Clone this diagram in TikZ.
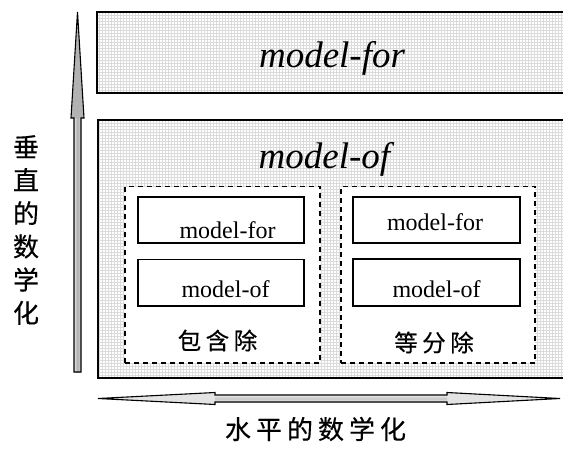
\documentclass[tikz,border=0pt]{standalone}
\usepackage{fontspec}
\setmainfont{Liberation Serif}
\newfontfamily\cjk[FakeBold=0.4]{Noto Sans CJK SC}
\usetikzlibrary{patterns}
\tikzset{
  outerbox/.style={draw=black, line width=2pt, preaction={fill=white}, pattern=grid, pattern color=black!14, inner sep=0pt, outer sep=0pt},
  dashbox/.style={draw=black, line width=1.5pt, dash pattern=on 5pt off 4pt, fill=white, inner sep=0pt, outer sep=0pt},
  innerbox/.style={draw=black, line width=1.4pt, fill=white, inner sep=0pt, outer sep=0pt},
  bigital/.style={font=\fontsize{37}{40}\selectfont\itshape, anchor=base, inner sep=0pt},
  smalltext/.style={font=\fontsize{24}{26}\selectfont, anchor=base, inner sep=0pt},
  cjklabel/.style={font=\cjk\fontsize{23.5}{26}\selectfont, inner sep=0pt},
  arrowline/.style={draw=black, line width=1.1pt, line join=miter}
}
\begin{document}
\begin{tikzpicture}[x=1pt,y=-1pt]
\useasboundingbox (0,0) rectangle (563,450);
\clip (0,0) rectangle (563,450);
% outer boxes
\node[outerbox, minimum width=471pt, minimum height=81pt] (forbox) at (332.5,52.5) {};
\node[outerbox, minimum width=470pt, minimum height=258pt] (ofbox) at (333,249) {};
\node[bigital] (fortext) at (332,67) {model-for};
\node[bigital] (oftext) at (324.5,168) {model-of};
% dashed groups
\node[dashbox, minimum width=195pt, minimum height=176.5pt] (leftgroup) at (222.5,274.75) {};
\node[dashbox, minimum width=194pt, minimum height=176.5pt] (rightgroup) at (438,274.75) {};
% inner boxes
\node[innerbox, minimum width=166pt, minimum height=46pt] (lfor) at (221,220) {};
\node[innerbox, minimum width=166pt, minimum height=46.5pt] (lof) at (221,282.75) {};
\node[innerbox, minimum width=167pt, minimum height=46pt] (rfor) at (436.5,220) {};
\node[innerbox, minimum width=167pt, minimum height=47pt] (rof) at (436.5,282.5) {};
\node[smalltext] (lfortext) at (227.5,238) {model-for};
\node[smalltext] (loftext) at (225.5,297) {model-of};
\node[smalltext] (rfortext) at (435,230) {model-for};
\node[smalltext] (roftext) at (436.5,297) {model-of};
\node[cjklabel] (lname) at (217.5,340.5) {包\hspace{4.5pt}含\hspace{4.5pt}除};
\node[cjklabel] (rname) at (434,342.5) {等\hspace{4.5pt}分\hspace{4.5pt}除};
% vertical arrow
\fill[left color=gray!20, right color=gray!20, middle color=gray!65] (74,118) rectangle (81,372);
\fill[gray!60] (77.5,12) -- (84,118) -- (71,118) -- cycle;
\draw[arrowline] (77.5,12) -- (84,118) -- (81,118) -- (81,372) -- (74,372) -- (74,118) -- (71,118) -- cycle;
% horizontal arrow
\fill[gray!22] (98,398.5) -- (215,392.5) -- (215,395) -- (447,395) -- (447,392.5) -- (560,398.5) -- (447,404.5) -- (447,402) -- (215,402) -- (215,404.5) -- cycle;
\fill[top color=gray!15, bottom color=gray!15, middle color=gray!45] (215,395) rectangle (447,402);
\draw[arrowline] (98,398.5) -- (215,392.5) -- (215,395) -- (447,395) -- (447,392.5) -- (560,398.5) -- (447,404.5) -- (447,402) -- (215,402) -- (215,404.5) -- cycle;
% axis labels
\node[font=\cjk\fontsize{26}{28}\selectfont, inner sep=0pt] (hlabel) at (315.5,429) {水\hspace{5pt}平\hspace{5pt}的\hspace{5pt}数\hspace{5pt}学\hspace{5pt}化};
\node[font=\cjk\fontsize{26}{33.2}\selectfont, align=center, inner sep=0pt] (vlabel) at (26,230) {垂\\直\\的\\数\\学\\化};
\end{tikzpicture}
\end{document}
